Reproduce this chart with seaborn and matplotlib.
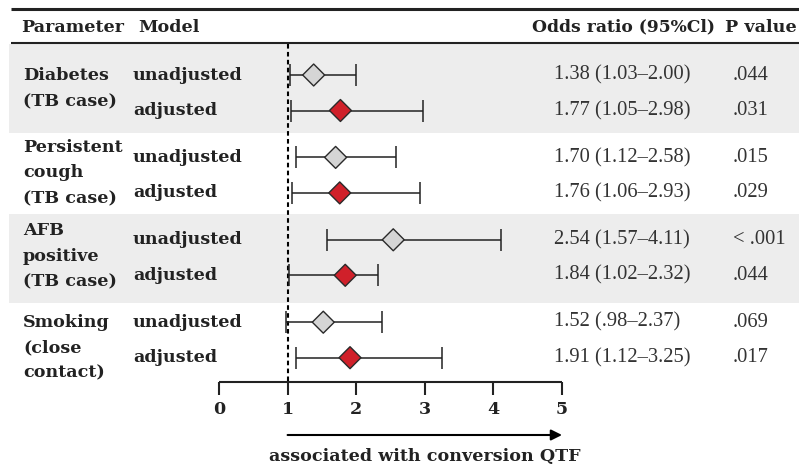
import matplotlib
matplotlib.use("Agg")
import matplotlib.pyplot as plt
import matplotlib.transforms as mtransforms
import numpy as np
import pandas as pd
import seaborn as sns

# ---------------- data ----------------
parameters = ["Diabetes\n(TB case)", "Persistent\ncough\n(TB case)",
              "AFB\npositive\n(TB case)", "Smoking\n(close\ncontact)"]
models = ["unadjusted", "adjusted"]
odds_ratio = [1.38, 1.77, 1.70, 1.76, 2.54, 1.84, 1.52, 1.91]
ci_low = [1.03, 1.05, 1.12, 1.06, 1.57, 1.02, 0.98, 1.12]
ci_high = [2.00, 2.98, 2.58, 2.93, 4.11, 2.32, 2.37, 3.25]
p_values = [".044", ".031", ".015", ".029", "< .001", ".044", ".069", ".017"]
x_ticks = [0, 1, 2, 3, 4, 5]
x_label = "associated with conversion QTF"

# ---------------- layout ----------------
W, H = 799, 467
PX_PER_UNIT = 68.6
X0_PX = 219
GROUP_STEP = 82.4
ROW_STEP = 35.5
FIRST_ROW = 75
LABEL_OFFSETS = [1, -10, -9, 0]
LINE_STEP = 25.5
BANDS = [(44, 133), (214, 303)]

BOLD = dict(family="DejaVu Serif", fontweight="bold", fontsize=12.6, color="#222222")
REG = dict(family="Liberation Serif", fontsize=14.8, color="#333333")

def fmt(v):
    s = f"{v:.2f}"
    return s[1:] if s.startswith("0") else s

rows = []
for gi, par in enumerate(parameters):
    for mi, mod in enumerate(models):
        k = gi * 2 + mi
        rows.append(dict(parameter=par, model=mod, OR=odds_ratio[k], lo=ci_low[k], hi=ci_high[k],
                         p=p_values[k], y=FIRST_ROW + GROUP_STEP * gi + ROW_STEP * mi,
                         label=f"{fmt(odds_ratio[k])} ({fmt(ci_low[k])}\u2013{fmt(ci_high[k])})"))
df = pd.DataFrame(rows)

sns.set_theme(style="white")
fig = plt.figure(figsize=(W / 100, H / 100), dpi=100)
ax = fig.add_axes([0, 0, 1, 1])
tr = mtransforms.blended_transform_factory(ax.transAxes, ax.transData)

# shaded bands
for top, bot in BANDS:
    ax.axhspan(top, bot, xmin=9 / W, xmax=1, color="#ededed", lw=0, zorder=0)

# header lines
ax.plot([11 / W, 1], [9, 9], transform=tr, color="#222222", lw=2.2, solid_capstyle="butt")
ax.plot([11 / W, 1], [43, 43], transform=tr, color="#222222", lw=1.5, solid_capstyle="butt")

ax.text(21 / W, 27, "Parameter", transform=tr, va="center", ha="left", **BOLD)
ax.text(138 / W, 27, "Model", transform=tr, va="center", ha="left", **BOLD)
ax.text(532 / W, 27, "Odds ratio (95%Cl)", transform=tr, va="center", ha="left",
        **{**BOLD, "fontsize": 12.3})
ax.text(725 / W, 27, "P value", transform=tr, va="center", ha="left", **BOLD)

# reference line
ax.vlines(1, 44, 382, colors="black", linestyles=(0, (2.2, 1.6)), lw=1.5, zorder=2)

# error bars
ax.errorbar(df["OR"], df["y"], xerr=[df["OR"] - df["lo"], df["hi"] - df["OR"]],
            fmt="none", ecolor="#222222", elinewidth=1.1, capsize=8.2, capthick=1.1, zorder=3)

# diamonds
sns.scatterplot(data=df, x="OR", y="y", hue="model",
                palette={"unadjusted": "#d5d5d5", "adjusted": "#d0202a"},
                marker="D", s=125, edgecolor="#2a2a2a", linewidth=1.0, legend=False, ax=ax, zorder=4)
ax.set_xlim(-X0_PX / PX_PER_UNIT, (W - X0_PX) / PX_PER_UNIT)
ax.set_ylim(H, 0)
ax.axis("off")

# text columns
for gi, par in enumerate(parameters):
    y0 = FIRST_ROW + GROUP_STEP * gi + LABEL_OFFSETS[gi]
    for li, line in enumerate(par.split("\n")):
        ax.text(23 / W, y0 + li * LINE_STEP, line, transform=tr, va="center", ha="left", **BOLD)
for _, r in df.iterrows():
    ax.text(133 / W, r["y"], r["model"], transform=tr, va="center", ha="left", **BOLD)
    ax.text(554 / W, r["y"], r["label"], transform=tr, va="center", ha="left", **REG)
    ax.text(733 / W, r["y"], r["p"], transform=tr, va="center", ha="left", **REG)

# x axis
ax.hlines(382, x_ticks[0], x_ticks[-1], colors="#222222", lw=1.5)
ax.vlines(x_ticks, 382, 395, colors="#222222", lw=1.5)
for t in x_ticks:
    ax.text(t, 410, str(t), ha="center", va="center", **BOLD)

ax.annotate("", xy=(x_ticks[-1], 435), xytext=(1, 435),
            arrowprops=dict(arrowstyle="-|>", lw=1.5, color="black", mutation_scale=16, shrinkA=0, shrinkB=0))
ax.text(3, 457, x_label, ha="center", va="center", **BOLD)

fig.savefig("out.png", dpi=100, facecolor="white")
